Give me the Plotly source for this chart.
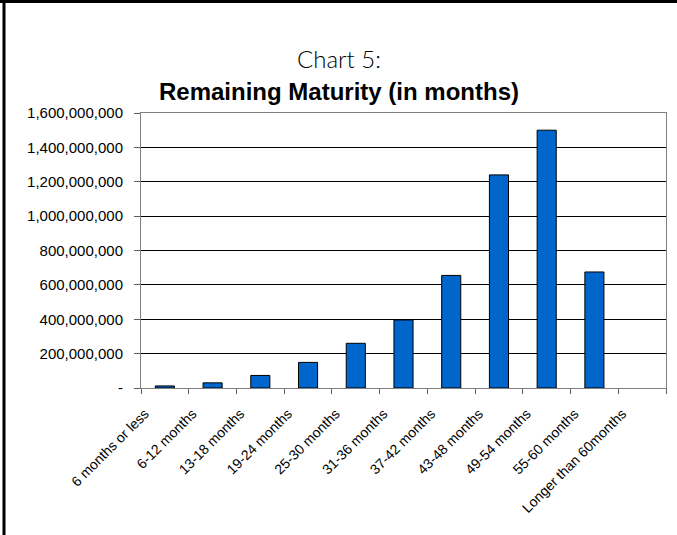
import plotly.graph_objects as go

# Remaining maturity buckets and outstanding amounts
categories = [
    "6 months or less", "6-12 months", "13-18 months", "19-24 months",
    "25-30 months", "31-36 months", "37-42 months", "43-48 months",
    "49-54 months", "55-60 months", "Longer than 60months",
]
amounts = [
    12_000_000, 30_000_000, 73_000_000, 149_000_000, 260_000_000,
    396_000_000, 655_000_000, 1_240_000_000, 1_500_000_000,
    675_000_000, 0,
]
y_tick_values = [0, 200_000_000, 400_000_000, 600_000_000, 800_000_000,
                 1_000_000_000, 1_200_000_000, 1_400_000_000, 1_600_000_000]
y_tick_labels = ["-", "200,000,000", "400,000,000", "600,000,000",
                 "800,000,000", "1,000,000,000", "1,200,000,000",
                 "1,400,000,000", "1,600,000,000"]

W, H = 677, 535
L, R, T, B = 141, 11, 113, 147
pw, ph = W - L - R, H - T - B

font = "Liberation Sans, Arial, sans-serif"

# empty buckets get no outline so nothing shows at the baseline
outline_widths = [1 if v > 0 else 0 for v in amounts]

fig = go.Figure(
    go.Bar(
        x=categories,
        y=amounts,
        width=0.4,
        marker=dict(color="#0066CC",
                    line=dict(color="#000000", width=outline_widths)),
    )
)

fig.update_layout(
    width=W,
    height=H,
    margin=dict(l=L, r=R, t=T, b=B, pad=0),
    paper_bgcolor="white",
    plot_bgcolor="white",
    showlegend=False,
    font=dict(family=font, color="#000000"),
    bargap=0.6,
)

fig.update_xaxes(
    type="category",
    tickangle=-45,
    tickfont=dict(size=14, family=font),
    showline=True,
    linecolor="#808080",
    linewidth=1,
    mirror=True,
    ticks="outside",
    tickson="boundaries",
    ticklen=5,
    tickcolor="#606060",
    ticklabelshift=-20,
    ticklabelstandoff=11,
    showgrid=False,
)

fig.update_yaxes(
    range=[0, 1_600_000_000],
    tickvals=y_tick_values,
    ticktext=y_tick_labels,
    tickfont=dict(size=15, family=font),
    showline=True,
    linecolor="#808080",
    linewidth=1,
    mirror=True,
    ticks="outside",
    ticklen=6,
    tickcolor="#606060",
    ticklabelstandoff=8,
    showgrid=True,
    gridcolor="#000000",
    gridwidth=1,
    zeroline=True,
    zerolinecolor="#000000",
    zerolinewidth=1,
)

# Two-line heading
fig.add_annotation(
    xref="paper", yref="paper",
    x=(W / 2 - L) / pw, y=(H - B - 58) / ph,
    text="Chart 5:", showarrow=False,
    font=dict(family="Lato, Liberation Sans, sans-serif", size=24, weight=300),
    xanchor="center", yanchor="middle",
)
fig.add_annotation(
    xref="paper", yref="paper",
    x=(W / 2 - L) / pw, y=(H - B - 92) / ph,
    text="<b>Remaining Maturity (in months)</b>", showarrow=False,
    font=dict(family=font, size=24),
    xanchor="center", yanchor="middle",
)

# Frame lines along the left and top edges of the page
left_x = (4 - L) / pw
top_y = (H - B - 1.5) / ph
fig.add_shape(type="line", xref="paper", yref="paper",
              x0=left_x, x1=left_x, y0=(H - B - H) / ph, y1=top_y + 0.01,
              line=dict(color="#000000", width=3))
fig.add_shape(type="line", xref="paper", yref="paper",
              x0=left_x - 0.01, x1=(W - L) / pw, y0=top_y, y1=top_y,
              line=dict(color="#000000", width=3))

fig.write_html("out.html")
